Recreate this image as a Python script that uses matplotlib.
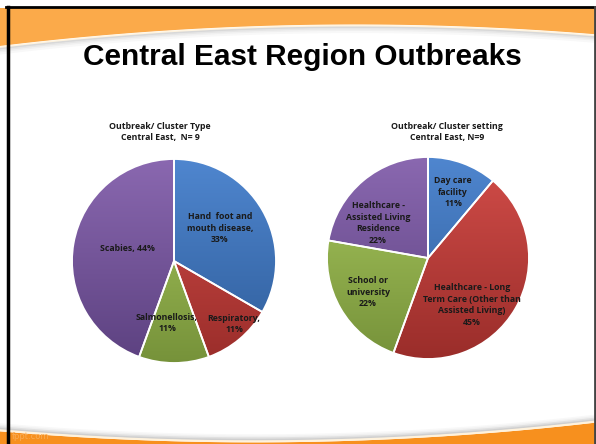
import numpy as np
import matplotlib
matplotlib.use('Agg')
import matplotlib.pyplot as plt
from matplotlib.colors import LinearSegmentedColormap

# dados dos dois graficos
tipo_labels = ['Hand  foot and\nmouth disease,\n33%', 'Respiratory,\n11%',
               'Salmonellosis,\n11%', 'Scabies, 44%']
tipo_valores = [3, 1, 1, 4]

local_labels = ['Day care\nfacility\n11%',
                'Healthcare - Long\nTerm Care (Other than\nAssisted Living)\n45%',
                'School or\nuniversity\n22%',
                'Healthcare -\nAssisted Living\nResidence\n22%']
local_valores = [1, 4, 2, 2]

# cores (claro em cima, escuro embaixo)
cores = [('#4f86cf', '#2e5c99'), ('#d24d49', '#9a2d2a'),
         ('#a9c85e', '#76923a'), ('#8a68b0', '#5c4180')]

W, H = 596, 444
fig = plt.figure(figsize=(W / 100, H / 100), dpi=100)

# fundo do slide
bg = fig.add_axes([0, 0, 1, 1])
bg.set_xlim(0, W)
bg.set_ylim(H, 0)
bg.axis('off')
x = np.linspace(0, W, 300)
topo = np.polyval(np.polyfit([8, 300, 592], [45, 25, 34], 2), x)
base = np.polyval(np.polyfit([8, 300, 592], [432, 442, 423], 2), x)
bg.fill_between(x, 8, topo, color='#fbaa4a', lw=0)
bg.plot(x, topo + 1.5, color='#fff4e0', lw=1.5)
for i, c in enumerate(['#d8d8d8', '#e6e6e6', '#f0f0f0', '#f8f8f8']):
    bg.plot(x, topo + 3 + i * 1.5, color=c, lw=1.5)
for i, c in enumerate(['#f8f8f8', '#f0f0f0', '#e0e0e0', '#cfcfcf']):
    bg.plot(x, base - 7 + i * 1.5, color=c, lw=1.5)
bg.plot(x, base - 1, color='#fff2dc', lw=1.5)
bg.fill_between(x, base, H, color='#f7901e', lw=0)
bg.plot([7.5, 7.5], [7, H], color='black', lw=2.5)
bg.plot([6, W], [7.5, 7.5], color='black', lw=2)
bg.plot([594.5, 594.5], [7, H], color='#444444', lw=2)
bg.text(12, 441, 'fppt.com', fontsize=6, color='#f9ac55', va='bottom')

bg.text(302, 57, 'Central East Region Outbreaks', fontsize=21.4, fontweight='bold',
        family='Liberation Sans', ha='center', va='center')


def pizza(cx, cy, r, valores):
    ax = fig.add_axes([(cx - r) / W, (H - cy - r) / H, 2 * r / W, 2 * r / H])
    fatias, _ = ax.pie(valores, startangle=90, counterclock=False,
                       wedgeprops=dict(edgecolor='white', linewidth=1.3))
    grad = np.linspace(0, 1, 256).reshape(-1, 1)
    for w, (c1, c2) in zip(fatias, cores):
        cmap = LinearSegmentedColormap.from_list('g', [c1, c2])
        im = ax.imshow(grad, extent=(-1, 1, -1, 1), cmap=cmap, aspect='auto',
                       origin='upper', zorder=0)
        im.set_clip_path(w)
        w.set_facecolor('none')
        w.set_zorder(2)
    ax.set_xlim(-1.01, 1.01)
    ax.set_ylim(-1.01, 1.01)
    ax.set_aspect('equal')
    ax.axis('off')


pizza(174, 261, 103, tipo_valores)
pizza(428, 258, 102, local_valores)

# camada de textos por cima
tx = fig.add_axes([0, 0, 1, 1])
tx.set_xlim(0, W)
tx.set_ylim(H, 0)
tx.axis('off')
fonte = dict(family='Open Sans', fontweight='bold', fontsize=6.3, ha='center',
             va='center', linespacing=1.4, color='#1a1a1a')

tx.text(160, 132, 'Outbreak/ Cluster Type\nCentral East,  N= 9', **fonte)
tx.text(447, 132, 'Outbreak/ Cluster setting\nCentral East, N=9', **fonte)

pos_tipo = [(220, 228), (234, 324), (167, 323), (127, 248)]
for (px, py), lab in zip(pos_tipo, tipo_labels):
    tx.text(px, py, lab, **fonte)

pos_local = [(453, 192), (472, 305), (368, 292), (378, 223)]
for (px, py), lab in zip(pos_local, local_labels):
    tx.text(px, py, lab, **fonte)

fig.savefig('out.png', dpi=100)
